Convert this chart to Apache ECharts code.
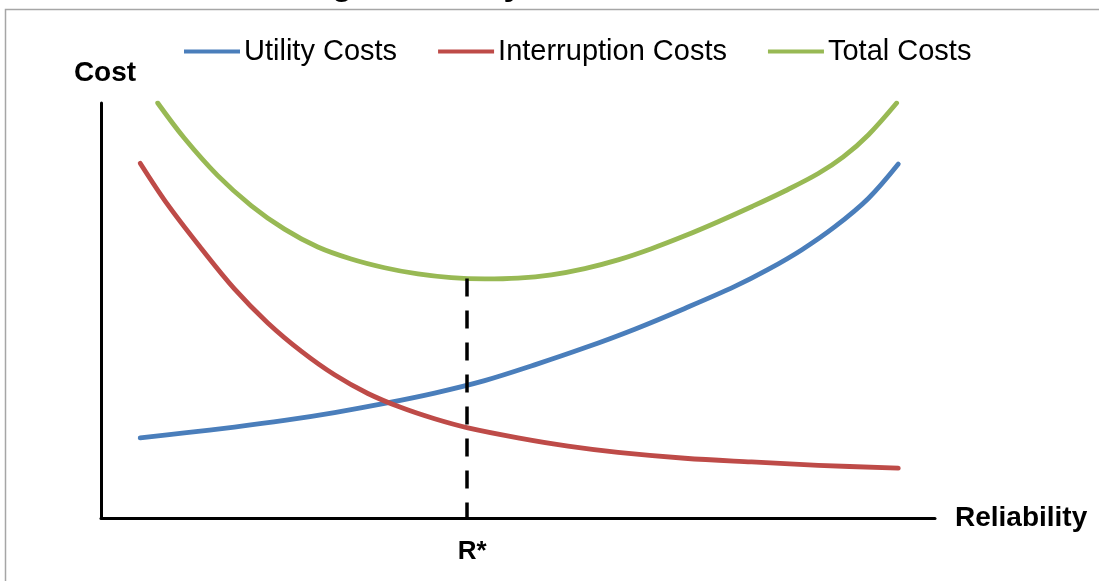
<!DOCTYPE html>
<html>
<head>
<meta charset="utf-8">
<script src="https://cdn.jsdelivr.net/npm/echarts@6/dist/echarts.min.js"></script>
<style>
  html, body { margin: 0; padding: 0; background: #fff; }
  #chart { width: 1099px; height: 581px; }
</style>
</head>
<body>
<div id="chart"></div>
<script>
// ---- data (x: reliability 0-100, y: cost 0-100) ----
const seriesNames = ['Utility Costs', 'Interruption Costs', 'Total Costs'];
const utilityCosts = [[4.7,19.3],[10,20.5],[16,21.9],[22,23.5],[28,25.4],[34,27.6],[40,30.1],[46,33.1],[52,36.9],[58,41.0],[64,45.5],[70,50.5],[76,55.8],[80,59.9],[84,64.6],[88,70.2],[92,77.0],[95.6,85.3]];
const interruptionCosts = [[4.7,85.5],[8,75.5],[12,65.0],[16,55.2],[20,47.0],[24,40.2],[28,34.5],[32,30.0],[36,26.6],[40,23.9],[44,21.7],[50,19.3],[56,17.3],[62,15.8],[70,14.4],[78,13.5],[86,12.7],[95.6,12.0]];
const totalCosts = [[6.8,100],[10,91.5],[14,82.5],[18,75.3],[22,69.6],[26,65.3],[30,62.4],[34,60.3],[38,58.8],[42,57.9],[46,57.6],[50,57.8],[54,58.6],[58,60.1],[62,62.2],[66,64.9],[70,68.0],[74,71.4],[78,75.0],[82,78.8],[86,83.0],[89,87.0],[92,92.3],[95.4,100]];
const rStar = 43.9;
const costAtRStar = 57.7;
const rStarLabel = 'R*';
const xAxisName = 'Reliability';
const yAxisName = 'Cost';
const titleText = 'Balancing Reliability and Cost';

const colors = ['#4A7EBB', '#BE4B48', '#98B954'];
const font = 'Liberation Sans, Arial, sans-serif';

const chart = echarts.init(document.getElementById('chart'), null, { renderer: 'canvas' });

const lineSeries = (name, data, color) => ({
  name, type: 'line', data, smooth: 0.35, showSymbol: false, symbol: 'none',
  lineStyle: { color, width: 4.8, cap: 'round', join: 'round' }, itemStyle: { color },
  silent: true, animation: false, z: 3
});

const option = {
  backgroundColor: '#fff',
  animation: false,
  color: colors,
  graphic: [
    { type: 'rect', z: -1, silent: true,
      shape: { x: 5.5, y: 9.5, width: 1200, height: 700 },
      style: { fill: 'none', stroke: '#a6a6a6', lineWidth: 1.5 } },
    { type: 'text', silent: true, left: 190, top: -31,
      style: { text: titleText, font: 'bold 34px ' + font, fill: '#000' } }
  ],
  legend: {
    data: seriesNames,
    left: 179, top: 32,
    icon: 'rect', itemWidth: 56, itemHeight: 4, itemGap: 41,
    textStyle: { fontFamily: font, fontSize: 29, color: '#000', padding: [0, 0, 0, -1] },
    selectedMode: false
  },
  grid: { left: 101, right: 164, top: 103, bottom: 63, containLabel: false },
  xAxis: {
    type: 'value', min: 0, max: 100,
    name: xAxisName, nameLocation: 'end', nameGap: 20,
    nameTextStyle: { fontFamily: font, fontSize: 28, fontWeight: 'bold', color: '#000' },
    axisLine: { show: true, onZero: false, lineStyle: { color: '#000', width: 3 } },
    axisTick: { show: false },
    splitLine: { show: false },
    axisLabel: {
      show: true, customValues: [rStar], formatter: () => rStarLabel,
      fontFamily: font, fontSize: 26, fontWeight: 'bold', color: '#000', margin: 21,
      padding: [0, 0, 0, 10]
    }
  },
  yAxis: {
    type: 'value', min: 0, max: 100,
    name: yAxisName, nameLocation: 'end', nameGap: 16,
    nameTextStyle: { fontFamily: font, fontSize: 28, fontWeight: 'bold', color: '#000', padding: [0, 0, 0, 8] },
    axisLine: { show: true, onZero: false, lineStyle: { color: '#000', width: 3 } },
    axisTick: { show: false },
    axisLabel: { show: false },
    splitLine: { show: false }
  },
  series: [
    Object.assign(lineSeries(seriesNames[0], utilityCosts, colors[0]), {
      markLine: {
        silent: true, symbol: 'none', animation: false,
        label: { show: false },
        lineStyle: { color: '#000', width: 3.5, type: [18, 14], cap: 'butt' },
        emphasis: { disabled: true },
        data: [[{ coord: [rStar, costAtRStar] }, { coord: [rStar, 0] }]]
      }
    }),
    lineSeries(seriesNames[1], interruptionCosts, colors[1]),
    lineSeries(seriesNames[2], totalCosts, colors[2])
  ]
};

chart.setOption(option);
</script>
</body>
</html>
